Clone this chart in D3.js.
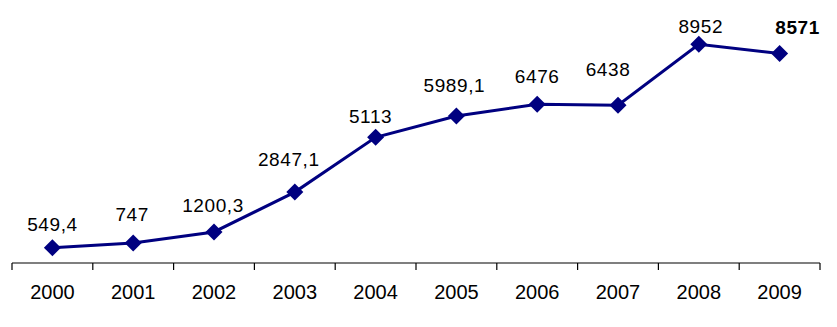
<!DOCTYPE html>
<html>
<head>
<meta charset="utf-8">
<script src="https://cdn.jsdelivr.net/npm/d3@7"></script>
<style>
  body { margin: 0; background: #fff; }
  text { font-family: "Liberation Sans", Arial, sans-serif; }
</style>
</head>
<body>
<div id="chart"></div>
<script>
// data
const years = ["2000", "2001", "2002", "2003", "2004", "2005", "2006", "2007", "2008", "2009"];
const values = [549.4, 747, 1200.3, 2847.1, 5113, 5989.1, 6476, 6438, 8952, 8571];
const valueLabels = ["549,4", "747", "1200,3", "2847,1", "5113", "5989,1", "6476", "6438", "8952", "8571"];

// label nudges (Excel labels were hand-placed)
const labelDx = [0, -1, -1, -6, -5, -2, 0, -10, 2, 18];
const labelDy = [-17, -22, -20, -26, -14, -24, -21, -29, -11, -20];

const width = 837, height = 327;

const svg = d3.select("#chart").append("svg")
    .attr("width", width)
    .attr("height", height);

const x = d3.scaleBand()
    .domain(years)
    .range([12, 820])
    .padding(0);

const y = d3.scaleLinear()
    .domain([0, 10000])
    .range([261, 19]);

const axisY = 263;

// x axis
const xAxis = svg.append("g")
    .attr("transform", "translate(0," + axisY + ")");

xAxis.append("line")
    .attr("x1", 12).attr("x2", 820)
    .attr("stroke", "#000").attr("stroke-width", 1.2);

const bounds = years.map(d => x(d)).concat([x.range()[1]]);
xAxis.selectAll(".tick")
    .data(bounds)
  .enter().append("line")
    .attr("x1", d => d).attr("x2", d => d)
    .attr("y1", 0).attr("y2", 7)
    .attr("stroke", "#000").attr("stroke-width", 1.2);

xAxis.selectAll(".year")
    .data(years)
  .enter().append("text")
    .attr("x", d => x(d) + x.bandwidth() / 2)
    .attr("y", 36)
    .attr("text-anchor", "middle")
    .style("font-size", "20px")
    .attr("fill", "#000")
    .text(d => d);

// line
const pts = years.map((yr, i) => ({ yr: yr, v: values[i], i: i }));

const line = d3.line()
    .x(d => x(d.yr) + x.bandwidth() / 2)
    .y(d => y(d.v));

svg.append("path")
    .datum(pts)
    .attr("d", line)
    .attr("fill", "none")
    .attr("stroke", "#000080")
    .attr("stroke-width", 3);

// diamond markers
svg.selectAll(".marker")
    .data(pts)
  .enter().append("path")
    .attr("d", "M0,-8.5L8.5,0L0,8.5L-8.5,0Z")
    .attr("transform", d => "translate(" + (x(d.yr) + x.bandwidth() / 2) + "," + y(d.v) + ")")
    .attr("fill", "#000080");

// value labels
svg.selectAll(".val")
    .data(pts)
  .enter().append("text")
    .attr("x", d => x(d.yr) + x.bandwidth() / 2 + labelDx[d.i])
    .attr("y", d => y(d.v) + labelDy[d.i])
    .attr("text-anchor", "middle")
    .style("font-size", "19px")
    .style("letter-spacing", "0.6px")
    .style("font-weight", d => d.i === years.length - 1 ? "bold" : "normal")
    .attr("fill", "#000")
    .text(d => valueLabels[d.i]);
</script>
</body>
</html>
